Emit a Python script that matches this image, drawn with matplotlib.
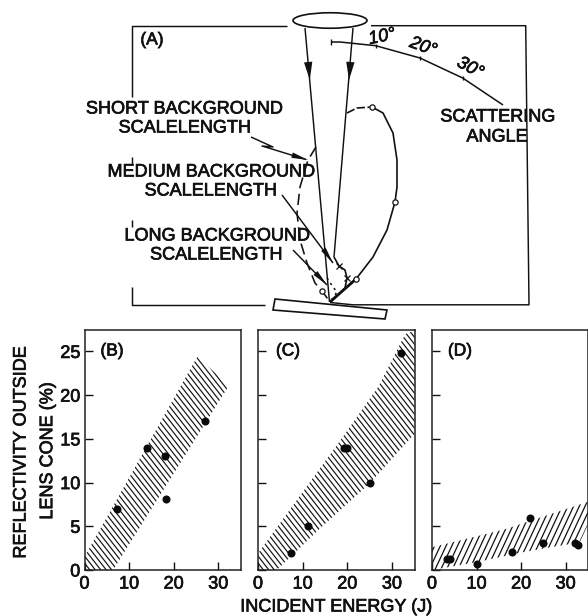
import numpy as np
import matplotlib
matplotlib.use("Agg")
import matplotlib.pyplot as plt
from matplotlib.collections import LineCollection
from matplotlib.patches import Polygon, Ellipse
from matplotlib.transforms import IdentityTransform
import matplotlib.patheffects as pe

W, H = 588, 616
plt.rcParams['font.family'] = ['Liberation Sans', 'DejaVu Sans']

# ---- scatter data (incident energy J, reflectivity %)
b_x = [7.3, 14, 18, 18.2, 27]
b_y = [7, 14, 13, 8.1, 17]
c_x = [7.5, 11.2, 19.2, 20, 25, 32]
c_y = [2, 5, 14, 14, 10, 24.8]
d_x = [3.3, 4, 10, 18, 22, 25, 32, 32.7]
d_y = [1.3, 1.3, 0.7, 2.1, 5.9, 3.1, 3.1, 2.9]

# ---- shaded bands
b_band = [(0, 0), (0, 1.5), (25.3, 24.4), (32.4, 21.1), (6.4, 0)]
c_band = [(0, 0), (0, 1.9), (18.7, 15), (27, 21), (33, 27), (35.1, 27.4), (35.1, 15.6),
          (25, 9.9), (14.2, 4.9), (4.2, 0)]
d_band = [(0, 0), (0, 2.6), (16, 4.6), (35, 7.8), (35, 5.2), (33, 3), (30, 2.9), (20, 2), (10, 0.9)]

x_ticks = [0, 10, 20, 30]
y_ticks = [0, 5, 10, 15, 20, 25]
y_tick_labels = ['0', '5', '10', '15', '20', '25']
panel_names = ['(B)', '(C)', '(D)']

# ---- diagram (A) traces, in picture coordinates
solid_lobe_x = [372, 383, 393, 397, 397, 395, 387, 373, 356, 343, 330]
solid_lobe_y = [107, 113, 133, 160, 187, 202, 230, 257, 279, 290, 302]
dash_lobe_x = [347, 357, 372]
dash_lobe_y = [113, 108, 107]
short_x = [316, 308, 300, 297, 300, 307, 315, 322, 330]
short_y = [147, 160, 187, 213, 240, 263, 283, 291, 302]
medium_x = [334, 339, 345, 347, 345, 330]
medium_y = [257, 266, 270, 278, 288, 302]
long_x = [327, 333, 337, 330]
long_y = [278, 287, 292, 302]
arc_x = [331, 340, 375.7, 420, 462.7, 503]
arc_y = [42, 42, 45.7, 58, 78, 105]
angle_labels = ['10°', '20°', '30°']
open_x = [372, 395, 356, 322]
open_y = [107, 202, 279, 291]
cross_x = [339, 346.5]
cross_y = [266, 278]

def axes_px(l, t, r, b):
    return fig.add_axes([l / W, (H - b) / H, (r - l) / W, (b - t) / H])

def hatch(ax, band, angle, gap, width):
    poly = Polygon(band, closed=True, fill=False, edgecolor='none', transform=ax.transData)
    ax.add_patch(poly)
    pts = ax.transData.transform(np.array(band))
    a = np.deg2rad(angle)
    d = np.array([np.cos(a), np.sin(a)])
    n = np.array([-d[1], d[0]])
    off = pts @ n
    along = pts @ d
    segs = []
    for o in np.arange(off.min(), off.max(), gap):
        segs.append([n * o + d * along.min(), n * o + d * along.max()])
    lc = LineCollection(segs, colors='#111111', linewidths=width, transform=IdentityTransform())
    ax.add_collection(lc, autolim=False)
    lc.set_clip_path(poly)

fig = plt.figure(figsize=(W / 100, H / 100), dpi=100)
fig.patch.set_facecolor('white')
heavy = [pe.withStroke(linewidth=0.5, foreground='#111111')]
FS = 13

specs = [
    ((84.5, 330, 241, 570), b_x, b_y, b_band, -52, 4.3, 0.85, 35.1),
    ((258, 330, 414.7, 570), c_x, c_y, c_band, -52, 4.3, 0.85, 35.1),
    ((432, 330, 587.5, 570), d_x, d_y, d_band, 65, 5.2, 0.9, 34.9),
]
for i, (box, xs, ys, band, ang, gap, width, xmax) in enumerate(specs):
    ax = axes_px(*box)
    ax.set_xlim(0, xmax)
    ax.set_ylim(0, 27.45)
    hatch(ax, band, ang, gap, width)
    ax.plot(xs, ys, 'o', color='#0a0a0a', ms=5.8, mew=0, zorder=5, clip_on=False)
    ax.set_xticks(x_ticks)
    ax.set_yticks(y_ticks)
    ax.set_yticklabels(y_tick_labels if i == 0 else [])
    ax.tick_params(direction='in', length=6, width=1.0, labelsize=FS, pad=4, color='#111111')
    ax.tick_params(axis='y', pad=3)
    for lab in ax.get_xticklabels() + ax.get_yticklabels():
        lab.set_path_effects(heavy)
        lab.set_color('#111111')
    for s in ax.spines.values():
        s.set_linewidth(1.1)
        s.set_color('#222222')
    ax.text({0: 27.5, 1: 30, 2: 28}[i] / (box[2] - box[0]),
            (570 - 351) / 240, panel_names[i], transform=ax.transAxes, fontsize=12.5,
            ha='center', va='center', color='#111111', path_effects=heavy)

# picture-space overlay for diagram (A) and the shared captions
ov = fig.add_axes([0, 0, 1, 1], zorder=10)
ov.set_xlim(0, W)
ov.set_ylim(H, 0)
ov.axis('off')
ov.patch.set_alpha(0)
k = '#111111'
lw = 1.05

def line(xs, ys, **kw):
    kw.setdefault('color', k)
    kw.setdefault('lw', lw)
    ov.plot(xs, ys, solid_capstyle='butt', **kw)

# frame of (A)
line([132, 132, 287], [97, 25.7, 25.7])
line([371, 525.7, 529, 353, 330], [25.7, 25.7, 304.8, 304.8, 302.5])
line([132, 132], [157, 165])
line([132, 132], [220, 227])
line([132, 132, 265], [287, 305, 305])

# lens and rays
ov.add_patch(Ellipse((330, 20.5), 74, 15.5, fc='white', ec=k, lw=1.2, zorder=3))
line([305, 329.5], [28, 302])
line([353, 334], [28, 257])
for x0, y0, x1, y1 in [(305, 28, 309.8, 80), (353, 28, 349, 80)]:
    ov.annotate('', xy=(x1, y1), xytext=(x0, y0),
                arrowprops=dict(arrowstyle='-|>,head_length=1.3,head_width=0.3', color=k, lw=0, shrinkA=0, shrinkB=0))

# platform
ov.add_patch(Polygon([(275, 299), (387, 310), (385, 319), (273, 310)], closed=True,
                     fc='white', ec=k, lw=1.2, zorder=2))

# polar curves
line(solid_lobe_x, solid_lobe_y, lw=1.2)
line(dash_lobe_x, dash_lobe_y, lw=1.2, ls=(0, (5, 1.5)))
line(short_x, short_y, lw=1.15, ls=(0, (7, 3.5)))
line(medium_x, medium_y, lw=1.2)
line(long_x, long_y, lw=1.1, ls=(0, (1.5, 2.5)))
line([356, 330], [279, 302], lw=2.0)
ov.plot(open_x, open_y, 'o', ms=3.8, mfc='white', mec=k, mew=0.9, zorder=6)
ov.plot(cross_x, cross_y, 'x', ms=4.5, mec=k, mew=0.9, zorder=6)

# scattering-angle arc
line(arc_x, arc_y, lw=1.1)
line([331, 331], [39, 45], lw=1.0)
for x, y in zip(arc_x[2:5], arc_y[2:5]):
    line([x, x], [y - 2, y + 2], lw=1.0)
for t, x, y, r in zip(angle_labels, [382, 423, 470], [37, 47, 68], [12, -20, -28]):
    ov.text(x, y, t, fontsize=FS, style='italic', rotation=r, ha='center', va='center',
            color=k, path_effects=heavy, rotation_mode='anchor')

# leader lines
line([251, 273, 262, 306], [137, 147, 146, 159.5])
line([282, 333], [195, 263])
line([293, 327], [250, 285])
for x0, y0, x1, y1 in [(262, 146, 308, 160), (312, 233, 333, 263), (305, 262, 327, 285)]:
    ov.annotate('', xy=(x1, y1), xytext=(x0, y0),
                arrowprops=dict(arrowstyle='-|>,head_length=1.2,head_width=0.2', color=k, lw=0, shrinkA=0, shrinkB=0))

# captions
labels = [('(A)', 152, 40, 12.5), ('SHORT BACKGROUND', 184, 109, FS), ('SCALELENGTH', 184.5, 128, FS),
          ('MEDIUM BACKGROUND', 211, 172, FS), ('SCALELENGTH', 210.5, 191, FS),
          ('LONG BACKGROUND', 217, 236, FS), ('SCALELENGTH', 216, 255, FS),
          ('SCATTERING', 497.5, 117, FS), ('ANGLE', 497, 137, FS),
          ('INCIDENT ENERGY (J)', 336, 607, FS)]
for t, x, y, fs in labels:
    ov.text(x, y, t, fontsize=fs, ha='center', va='center', color=k, path_effects=heavy)
ov.text(21, 453, 'REFLECTIVITY OUTSIDE', fontsize=FS, rotation=90, ha='center', va='center', color=k, path_effects=heavy)
ov.text(47.7, 451, 'LENS CONE (%)', fontsize=FS, rotation=90, ha='center', va='center', color=k, path_effects=heavy)

fig.savefig('out.png', dpi=100, facecolor='white')
